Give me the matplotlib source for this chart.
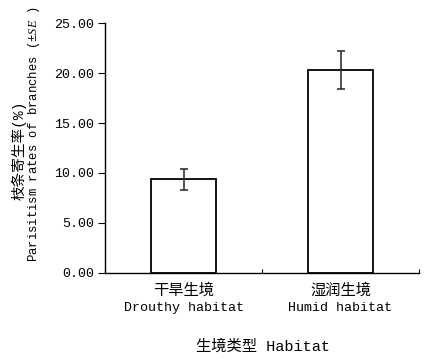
import numpy as np
import matplotlib
matplotlib.use("Agg")
import matplotlib.pyplot as plt

plt.rcParams['font.family'] = ['Liberation Mono', 'Noto Sans CJK SC']
plt.rcParams['mathtext.fontset'] = 'custom'
plt.rcParams['mathtext.it'] = 'Liberation Serif:italic'
plt.rcParams['mathtext.rm'] = 'Liberation Mono'

# data
habitats_cn = ['干旱生境', '湿润生境']
habitats_en = ['Drouthy habitat', 'Humid habitat']
rates = [9.36, 20.32]
se = [1.05, 1.90]
yticks = [0, 5, 10, 15, 20, 25]

W, H = 429, 363
fig = plt.figure(figsize=(W / 100, H / 100), dpi=100)
ax = fig.add_axes([105 / W, 1 - 272.7 / H, 314 / W, 249.4 / H])

x = np.arange(len(rates))
ax.bar(x, rates, width=0.41, color='white', edgecolor='black', linewidth=1.3, zorder=2)
ax.errorbar(x, rates, yerr=se, fmt='none', ecolor='#333333', elinewidth=1.2,
            capsize=3, capthick=1.2, zorder=3)

ax.set_xlim(-0.5, len(rates) - 0.5)
ax.set_ylim(0, 25)
ax.set_yticks(yticks)
ax.set_yticklabels(['%.2f' % v for v in yticks], fontsize=9.6)
ax.set_xticks(np.arange(len(rates) + 1) - 0.5)
ax.set_xticklabels([])
ax.tick_params(axis='x', direction='in', length=3, width=0.8)
ax.tick_params(axis='y', direction='out', length=5, width=0.8, pad=3)
for s in ['top', 'right']:
    ax.spines[s].set_visible(False)
for s in ['left', 'bottom']:
    ax.spines[s].set_linewidth(1.0)

# category labels, two lines each
for i in x:
    ax.text(i, -0.07, habitats_cn[i], transform=ax.get_xaxis_transform(),
            ha='center', va='center', fontsize=11)
    ax.text(i, -0.142, habitats_en[i], transform=ax.get_xaxis_transform(),
            ha='center', va='center', fontsize=9.6)

fig.text(263 / W, 1 - 346 / H, '生境类型 Habitat', ha='center', va='center', fontsize=11)

fig.text(19 / W, 1 - 150 / H, '枝条寄生率(%)', rotation=90, ha='center', va='center', fontsize=10.5)
fig.text(34 / W, 1 - 134 / H, 'Parisitism rates of branches (±$\\it{SE}$ )', rotation=90,
         ha='center', va='center', fontsize=8.8)

fig.savefig('out.png', dpi=100)
